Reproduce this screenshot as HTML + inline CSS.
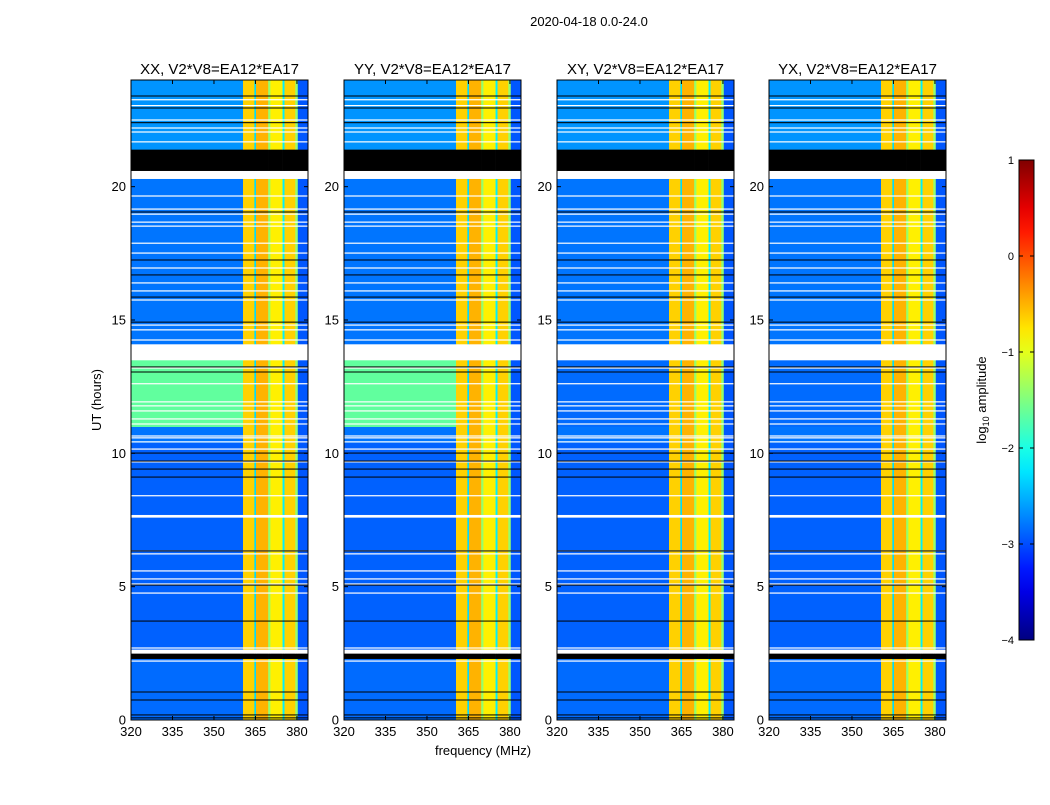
<!DOCTYPE html>
<html><head><meta charset="utf-8">
<style>
body{margin:0;background:#fff;font-family:"Liberation Sans",sans-serif;}
svg text{font-family:"Liberation Sans",sans-serif;}
</style></head>
<body>
<svg id="chart" width="1050" height="800" xmlns="http://www.w3.org/2000/svg">
<text x="589" y="26" font-size="13" text-anchor="middle">2020-04-18 0.0-24.0</text>
<text x="101" y="400" font-size="13" text-anchor="middle" transform="rotate(-90 101 400)">UT (hours)</text>
<text x="483" y="755" font-size="13" text-anchor="middle">frequency (MHz)</text>
<g id="panels"></g>
<g id="cbar"></g>
<text x="986" y="400" font-size="13" text-anchor="middle" transform="rotate(-90 986 400)">log<tspan font-size="9" dy="3">10</tspan><tspan dy="-3"> amplitude</tspan></text>
</svg>
<script>
const panelTitles = ["XX, V2*V8=EA12*EA17","YY, V2*V8=EA12*EA17","XY, V2*V8=EA12*EA17","YX, V2*V8=EA12*EA17"];
const greenBand = [true, true, false, false];
const freqStart = [320, 360.5, 364.6, 365.2, 369.6, 370.4, 374.8, 375.5, 379.4, 380.3];
const freqEnd   = [360.5, 364.6, 365.2, 369.6, 370.4, 374.8, 375.5, 379.4, 380.3, 384];
const freqLevel = [null, -0.65, -2.3, -0.5, -1.4, -0.8, -2.2, -0.65, -1.4, -2.95];
const timeStart = [0, 2.3, 2.5, 2.65, 7.6, 7.7, 10.4, 11.0, 13.5, 14.1, 20.3, 20.6, 21.4];
const timeEnd   = [2.3, 2.5, 2.65, 7.6, 7.7, 10.4, 11.0, 13.5, 14.1, 20.3, 20.6, 21.4, 24];
const timeLevel = [-2.85, "K", "W", -2.9, "W", -2.9, -2.8, "G", "W", -2.8, "W", "K", -2.65];
const whiteLines = [23.26,23.04,22.5,22.2,22.05,21.68,19.65,19.16,18.97,18.67,18.52,17.88,17.51,16.95,16.39,16.09,15.75,14.81,14.63,14.25,13.2,12.61,11.93,11.78,11.59,11.29,11.1,10.65,10.58,10.43,10.16,9.68,8.41,6.34,6.23,5.59,5.29,5.1,4.76,2.7,2.21];
const blackLines = [23.4,22.95,22.4,19.05,17.25,16.69,15.86,14.92,13.24,13.05,10.01,9.71,9.41,9.11,6.34,5.06,3.71,1.05,0.75,0.19,0.08];
const cbTicks = [1,0,-1,-2,-3,-4];
const xTicks = [320,335,350,365,380];
const yTicks = [0,5,10,15,20];

const NS="http://www.w3.org/2000/svg";
const PL=[131,344,557,769], PT=80, PW=177, PH=640, FMIN=320, FMAX=384, TMAX=24;
function jet(v){
  const c=x=>Math.max(0,Math.min(1,x));
  const r=c(Math.min(4*v-1.5,-4*v+4.5)), g=c(Math.min(4*v-0.5,-4*v+3.5)), b=c(Math.min(4*v+0.5,-4*v+2.5));
  return `rgb(${Math.round(r*255)},${Math.round(g*255)},${Math.round(b*255)})`;
}
const lv2c=l=>jet((l+4)/5);
function mk(tag,attrs,parent){const e=document.createElementNS(NS,tag);for(const k in attrs)e.setAttribute(k,attrs[k]);parent.appendChild(e);return e;}
const panels=document.getElementById('panels');
PL.forEach((L,p)=>{
  const xs=f=>L+(f-FMIN)/(FMAX-FMIN)*PW;
  const ys=t=>PT+PH-t/TMAX*PH;
  const g=mk('g',{},panels);
  
  
  for(let i=0;i<timeStart.length;i++){
    const y0=ys(timeEnd[i]), y1=ys(timeStart[i]);
    let tl=timeLevel[i];
    for(let j=0;j<freqStart.length;j++){
      let fill;
      if(tl==="W") fill="#fff"; else if(tl==="K") fill="#000";
      else{
        let l=freqLevel[j];
        if(l===null){ l = tl==="G" ? (greenBand[p]?-1.65:-2.85) : tl; }
        fill=lv2c(l);
      }
      const r=mk('rect',{x:xs(freqStart[j]),y:y0,width:xs(freqEnd[j])-xs(freqStart[j])+0.3,height:y1-y0+0.3,fill:fill},g);
      
      
    }
  }
  whiteLines.forEach(t=>{const r=mk('rect',{x:L,y:ys(t)-0.6,width:PW,height:1.2,fill:'#fff'},g);
    
    });
  blackLines.forEach(t=>{const r=mk('rect',{x:L,y:ys(t)-0.5,width:PW,height:1,fill:'#000'},g);
    
    });
  mk('rect',{x:L,y:PT,width:PW,height:PH,fill:'none',stroke:'#000','stroke-width':1},g);
  const t=mk('text',{x:L+PW/2,y:PT-6,'font-size':15,'text-anchor':'middle'},g);
  t.textContent=panelTitles[p];
  
  
  xTicks.forEach(f=>{const x=xs(f);
    mk('line',{x1:x,x2:x,y1:PT+PH,y2:PT+PH-4,stroke:'#000'},g);
    mk('line',{x1:x,x2:x,y1:PT,y2:PT+4,stroke:'#000'},g);
    const tx=mk('text',{x:x,y:PT+PH+16,'font-size':13,'text-anchor':'middle'},g);tx.textContent=f;
    
    });
  yTicks.forEach(v=>{const y=ys(v);
    mk('line',{x1:L,x2:L+4,y1:y,y2:y,stroke:'#000'},g);
    mk('line',{x1:L+PW,x2:L+PW-4,y1:y,y2:y,stroke:'#000'},g);
    const tx=mk('text',{x:L-5,y:y+4.5,'font-size':13,'text-anchor':'end'},g);tx.textContent=v;
    
    });
});
const cb=document.getElementById('cbar');
const CX=1019,CW=15,CT=160,CH=480;
const defs=mk('defs',{},cb);
const gr=mk('linearGradient',{id:'jetg',x1:0,y1:1,x2:0,y2:0},defs);
for(let i=0;i<=20;i++){mk('stop',{offset:i/20,'stop-color':jet(i/20)},gr);}
mk('rect',{x:CX,y:CT,width:CW,height:CH,fill:'url(#jetg)',stroke:'#000'},cb);
cbTicks.forEach(v=>{const y=CT+(1-v)/5*CH;
  mk('line',{x1:CX,x2:CX+4,y1:y,y2:y,stroke:'#000'},cb);
  mk('line',{x1:CX+CW,x2:CX+CW-4,y1:y,y2:y,stroke:'#000'},cb);
  const tx=mk('text',{x:CX-5,y:y+4,'font-size':11,'text-anchor':'end'},cb);
  tx.textContent=v<0?'\u2212'+(-v):v;
  
  });
</script>
</body></html>
